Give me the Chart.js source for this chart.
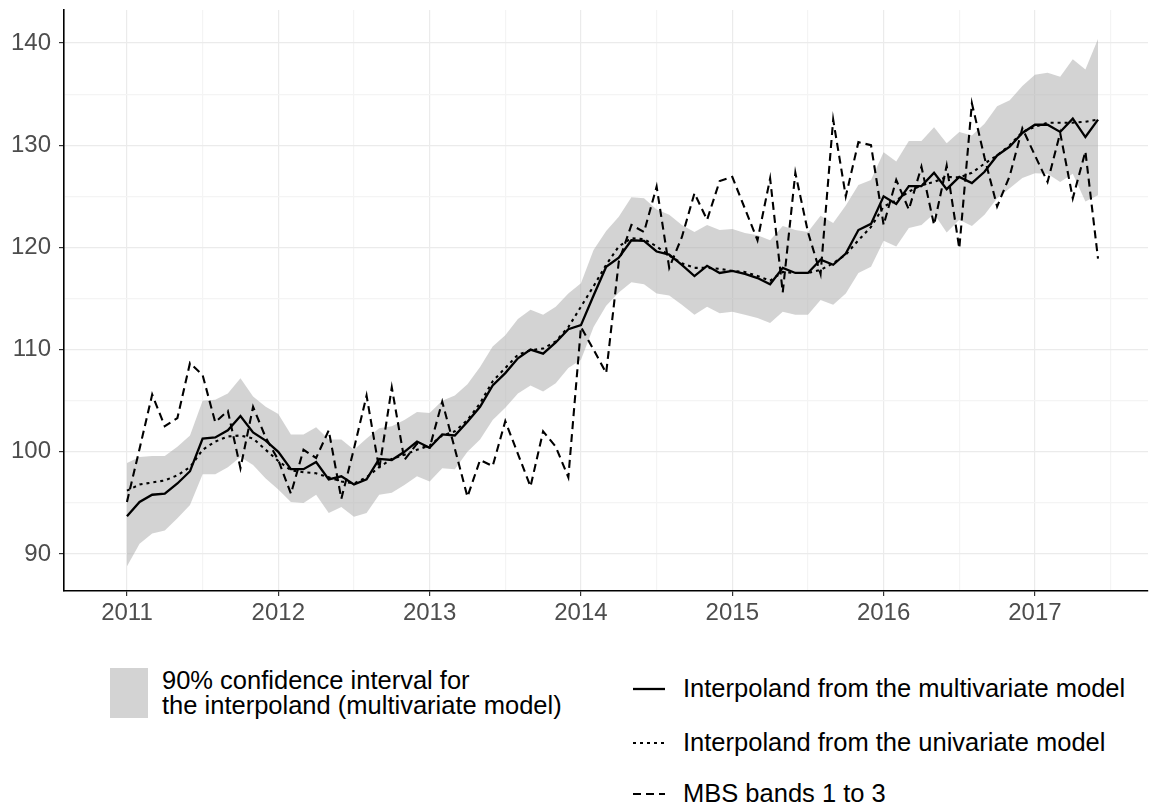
<!DOCTYPE html>
<html>
<head>
<meta charset="utf-8">
<script src="https://cdn.jsdelivr.net/npm/chart.js@4.4.0/dist/chart.umd.min.js"></script>
<style>
  body { margin: 0; background: #fff; font-family: "Liberation Sans", Arial, sans-serif; }
  #wrap { position: absolute; left: 0; top: 0; width: 1159px; height: 640px; }
  .leg { position: absolute; font-size: 25.5px; color: #000; line-height: 25px; white-space: nowrap; }
  .box { position: absolute; left: 110px; top: 668px; width: 38px; height: 50px; background: #d3d3d3; }
  svg { position: absolute; }
</style>
</head>
<body>
<div id="wrap"><canvas id="myChart"></canvas></div>

<div class="box"></div>
<div class="leg" style="left:162px; top:668px;">90% confidence interval for<br>the interpoland (multivariate model)</div>

<svg style="left:633px; top:679px;" width="32" height="20"><line x1="0" y1="10" x2="32" y2="10" stroke="#000" stroke-width="2.3"/></svg>
<div class="leg" style="left:683px; top:676px;">Interpoland from the multivariate model</div>

<svg style="left:633px; top:733px;" width="32" height="20"><line x1="0" y1="10" x2="32" y2="10" stroke="#000" stroke-width="2.1" stroke-dasharray="3 4"/></svg>
<div class="leg" style="left:683px; top:730px;">Interpoland from the univariate model</div>

<svg style="left:633px; top:784px;" width="32" height="20"><line x1="0" y1="10" x2="32" y2="10" stroke="#000" stroke-width="2.1" stroke-dasharray="8 5"/></svg>
<div class="leg" style="left:683px; top:781px;">MBS bands 1 to 3</div>

<script>
// monthly values, Jan 2011 .. Jun 2017
var anoInicio = 2011;

var multivariate = [
  93.7, 95.1, 95.8, 95.9, 96.9, 98.1, 101.3, 101.4, 102.1, 103.5, 101.9, 101.1,
  100.0, 98.3, 98.3, 99.0, 97.3, 97.6, 96.8, 97.3, 99.3, 99.2, 100.0, 101.0,
  100.4, 101.7, 101.6, 102.95, 104.4, 106.5, 107.7, 109.15, 110.0, 109.6, 110.7, 112.0,
  112.4, 115.3, 118.1, 119.0, 120.7, 120.65, 119.6, 119.3, 118.3, 117.2, 118.2, 117.5,
  117.7, 117.4, 117.0, 116.4, 118.0, 117.5, 117.5, 118.8, 118.3, 119.4, 121.7, 122.3,
  125.0, 124.25, 126.0, 126.0, 127.3, 125.7, 126.9, 126.3, 127.4, 129.0, 129.85, 131.2,
  132.0, 132.0, 131.3, 132.6, 130.8, 132.5
];

var univariate = [
  96.2, 96.8, 97.0, 97.2, 97.7, 98.5, 100.2, 101.0, 101.5, 101.6, 101.3, 100.2,
  99.1, 98.2, 98.0, 97.9, 97.5, 97.1, 96.9, 97.5, 98.5, 99.3, 99.7, 100.2,
  100.6, 101.6, 102.0, 103.1, 104.75, 106.9, 108.2, 109.5, 109.95, 110.1, 110.8, 112.2,
  114.2, 116.2, 118.3, 120.1, 120.9, 120.8, 120.1, 119.2, 118.45, 118.0, 118.0, 117.9,
  117.7, 117.6, 117.2, 116.75, 117.6, 117.5, 117.5, 117.8, 118.45, 119.3, 120.7, 122.0,
  124.0, 124.6, 125.45, 126.1, 126.4, 126.9, 126.85, 127.3, 128.2, 129.0, 130.0, 131.3,
  131.8, 132.2, 132.2, 132.2, 132.3, 132.5
];

var mbs = [
  95.1, 100.3, 105.6, 102.5, 103.3, 108.7, 107.5, 102.9, 104.0, 98.4, 104.4, 101.4,
  99.2, 95.9, 100.2, 99.4, 102.1, 95.4, 100.3, 105.5, 98.3, 106.3, 99.2, 100.8,
  100.4, 104.9, 100.3, 95.6, 99.2, 98.6, 103.0, 99.8, 96.6, 102.0, 100.5, 97.5,
  112.2, 110.0, 107.7, 118.6, 122.2, 121.5, 125.95, 118.0, 121.0, 125.3, 122.7, 126.5,
  126.9, 123.8, 120.7, 126.75, 115.6, 127.3, 121.5, 117.4, 132.5, 125.0, 130.3, 130.0,
  122.2, 126.6, 123.7, 127.9, 122.2, 128.0, 119.9, 134.1, 128.8, 124.0, 127.0, 131.65,
  129.0, 126.4, 131.2, 124.8, 129.4, 118.9
];

var icInferior = [
  88.8, 91.0, 92.0, 92.3, 93.5, 94.8, 97.8, 97.8, 98.5, 99.5, 98.7, 97.4,
  96.3, 95.1, 95.0, 95.8, 94.0, 94.6, 93.65, 94.0, 95.8, 96.0, 96.75, 97.6,
  97.1, 98.4, 98.3, 100.0, 101.2, 103.1, 104.3, 105.7, 106.5, 105.9, 106.7, 108.2,
  109.0, 112.2, 114.3, 115.6, 116.6, 116.4, 115.5, 115.3, 114.4, 113.4, 114.2, 113.55,
  113.7, 113.4, 113.1, 112.6, 113.7, 113.4, 113.4, 114.85, 114.4, 115.5, 117.5, 118.1,
  120.65, 120.1, 121.9, 122.2, 123.3, 121.45, 122.7, 122.1, 123.2, 124.8, 125.8, 126.8,
  127.25, 127.2, 126.4, 127.2, 124.5, 125.1
];

var icSuperior = [
  98.9, 99.5, 99.6, 99.6, 100.5, 101.6, 105.0, 105.1, 105.7, 107.2, 105.4, 104.4,
  103.7, 101.7, 101.7, 102.4, 101.2, 101.2, 100.2, 101.3, 102.3, 102.5, 103.1, 103.9,
  103.8, 105.0, 105.5, 106.6, 108.3, 110.3, 111.4, 113.0, 113.9, 113.4, 114.2, 115.5,
  116.5, 119.75, 121.6, 123.0, 124.9, 124.8, 123.7, 123.2, 122.2, 121.5, 122.2, 121.7,
  121.8, 121.4, 121.2, 120.7, 122.1, 121.7, 121.5, 123.1, 122.4, 124.1, 126.1, 126.6,
  129.3, 128.4, 130.4, 130.4, 131.75, 130.2, 131.3, 130.95, 132.1, 133.8, 134.4, 135.8,
  136.9, 137.1, 136.7, 138.4, 137.4, 140.4
];

var tempoX = [];
for (var i = 0; i < multivariate.length; i++) {
  tempoX.push(anoInicio + i / 12);
}

function pontos(serie) {
  var out = [];
  for (var i = 0; i < serie.length; i++) {
    out.push({ x: tempoX[i], y: serie[i] });
  }
  return out;
}

var corTexto = "#4d4d4d";
var fonteEixo = { family: "'Liberation Sans', Arial, sans-serif", size: 24 };

function gridCor(ctx, passo) {
  if (!ctx.tick) return "#ebebeb";
  var v = ctx.tick.value;
  return Math.abs(v / passo - Math.round(v / passo)) < 1e-6 ? "#ebebeb" : "#f4f4f4";
}
function tickCor(ctx, passo) {
  var v = ctx.tick.value;
  return Math.abs(v / passo - Math.round(v / passo)) < 1e-6 ? "#333333" : "rgba(0,0,0,0)";
}

var ctx = document.getElementById("myChart");
var data = {
  datasets: [
    {
      data: pontos(multivariate),
      label: "Interpoland from the multivariate model",
      borderColor: "#000",
      borderWidth: 2.3,
      pointRadius: 0,
      fill: false,
      order: 1
    },
    {
      data: pontos(univariate),
      label: "Interpoland from the univariate model",
      borderColor: "#000",
      borderWidth: 2.1,
      borderDash: [3, 4],
      pointRadius: 0,
      fill: false,
      order: 2
    },
    {
      data: pontos(mbs),
      label: "MBS bands 1 to 3",
      borderColor: "#000",
      borderWidth: 2.1,
      borderDash: [8, 5],
      pointRadius: 0,
      fill: false,
      order: 3
    },
    {
      data: pontos(icSuperior),
      label: "upper",
      borderWidth: 0,
      borderColor: "rgba(0,0,0,0)",
      backgroundColor: "rgba(168,168,168,0.5)",
      pointRadius: 0,
      fill: "+1",
      order: 4
    },
    {
      data: pontos(icInferior),
      label: "lower",
      borderWidth: 0,
      borderColor: "rgba(0,0,0,0)",
      pointRadius: 0,
      fill: false,
      order: 5
    }
  ]
};

var config = {
  type: "line",
  data,
  options: {
    responsive: true,
    maintainAspectRatio: false,
    animation: false,
    layout: { padding: { top: 10, right: 11, left: 0, bottom: 0 } },
    plugins: {
      legend: { display: false },
      tooltip: { enabled: false }
    },
    scales: {
      x: {
        type: "linear",
        min: 2010.584,
        max: 2017.747,
        border: { color: "#000", width: 1.6 },
        grid: {
          color: function (c) { return gridCor(c, 1); },
          lineWidth: 1.2,
          tickLength: 5,
          tickColor: function (c) { return tickCor(c, 1); }
        },
        ticks: {
          stepSize: 0.5,
          includeBounds: false,
          autoSkip: false,
          maxRotation: 0,
          color: corTexto,
          font: fonteEixo,
          padding: 3,
          callback: function (v) {
            return Math.abs(v - Math.round(v)) < 1e-6 ? String(Math.round(v)) : "";
          }
        },
        afterFit: function (s) {
          s.height = 49;
          s.paddingLeft = 0;
          s.paddingRight = 0;
        }
      },
      y: {
        min: 86.38,
        max: 143.23,
        border: { color: "#000", width: 1.6 },
        grid: {
          color: function (c) { return gridCor(c, 10); },
          lineWidth: 1.2,
          tickLength: 5,
          tickColor: function (c) { return tickCor(c, 10); }
        },
        ticks: {
          stepSize: 5,
          includeBounds: false,
          autoSkip: false,
          color: corTexto,
          font: fonteEixo,
          padding: 8,
          callback: function (v) {
            return Math.abs(v / 10 - Math.round(v / 10)) < 1e-6 ? String(v) : "";
          }
        },
        afterFit: function (s) {
          s.width = 64;
          s.paddingTop = 0;
          s.paddingBottom = 0;
        }
      }
    }
  }
};

var myChart = new Chart(ctx, config);
</script>
</body>
</html>
